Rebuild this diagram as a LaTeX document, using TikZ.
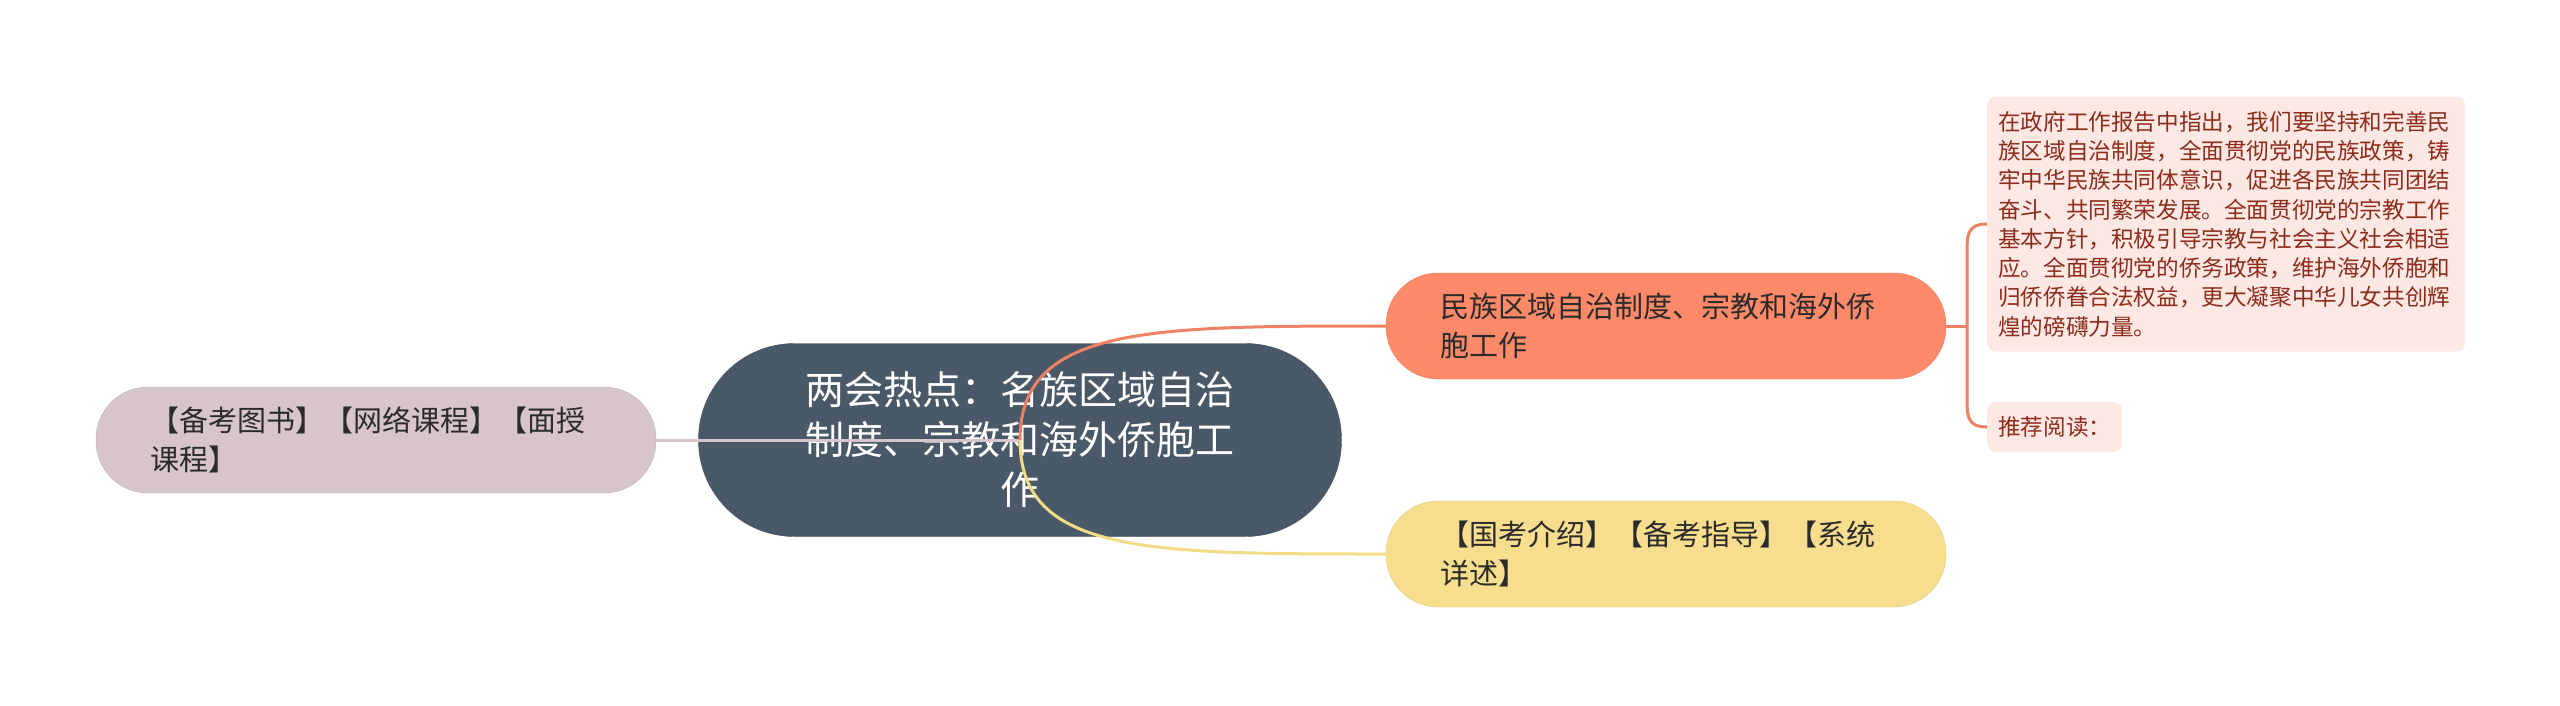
\documentclass[tikz,border=0pt]{standalone}
\usepackage{fontspec}
\newfontfamily\cjk{Noto Sans CJK SC}
\usetikzlibrary{calc}

\definecolor{slate}{HTML}{4A5968}
\definecolor{lilac}{HTML}{D8C4CD}
\definecolor{coral}{HTML}{FF8A69}
\definecolor{corallink}{HTML}{EE8064}
\definecolor{sand}{HTML}{F7DE8F}
\definecolor{sandlink}{HTML}{F3DC86}
\definecolor{leafpink}{HTML}{FDE8E4}
\definecolor{leafred}{HTML}{8E2C1C}
\definecolor{inkgray}{HTML}{2B2B2B}

\begin{document}
\begin{tikzpicture}[x=1pt,y=-1pt,
        topic/.style={rounded corners=96pt,fill=slate,draw=slate!85!black,text=white,minimum height=193pt,
          text width=500pt,inner xsep=71.5pt,align=center,font=\cjk\fontsize{39pt}{50pt}\selectfont},
        branch/.style={rounded corners=52pt,minimum height=106pt,text width=452pt,inner xsep=54pt,inner ysep=0pt,
          align=left,text=inkgray,font=\cjk\fontsize{29pt}{39pt}\selectfont},
        leaf/.style={rounded corners=9pt,fill=leafpink,text=leafred,align=left,inner xsep=11pt,anchor=west,
          font=\cjk\fontsize{22.6pt}{29.3pt}\selectfont},
        link/.style={line width=3pt}]
        \useasboundingbox (0,0) rectangle (2560,705);

        \node[topic] (hot) at (1020,440) {两会热点：名族区域自治\\制度、宗教和海外侨胞工\\作};
        \node[branch,fill=lilac,draw=lilac!90!black] (books) at (376,440) {【备考图书】【网络课程】【面授\\课程】};
        \node[branch,fill=coral,draw=coral!92!black] (minzu) at (1666,326) {民族区域自治制度、宗教和海外侨\\胞工作};
        \node[branch,fill=sand,draw=sand!92!black] (guokao) at (1666,554) {【国考介绍】【备考指导】【系统\\详述】};

        \node[leaf,text width=456pt,minimum height=255pt] (detail) at (1987,224)
          {在政府工作报告中指出，我们要坚持和完善民\\族区域自治制度，全面贯彻党的民族政策，铸\\牢中华民族共同体意识，促进各民族共同团结\\奋斗、共同繁荣发展。全面贯彻党的宗教工作\\基本方针，积极引导宗教与社会主义社会相适\\应。全面贯彻党的侨务政策，维护海外侨胞和\\归侨侨眷合法权益，更大凝聚中华儿女共创辉\\煌的磅礴力量。};
        \node[leaf,minimum height=50pt] (reading) at (1987,427) {推荐阅读：};

        \coordinate (fork) at (1967,326);

        \draw[link,lilac] (hot.center) -- (books.east);
        \draw[link,corallink] (hot.center) .. controls +(0,-114) and +(-236,0) .. (minzu.west);
        \draw[link,sandlink] (hot.center) .. controls +(0,114) and +(-236,0) .. (guokao.west);
        \draw[link,corallink] (minzu.east) -- (fork);
        \draw[link,corallink] (detail.west) .. controls +(-21,0) and +(0,-22) .. ($(fork|-detail.west)+(0,34)$)
          -- ($(fork|-reading.west)+(0,-34)$) .. controls +(0,22) and +(-21,0) .. (reading.west);
      \end{tikzpicture}
\end{document}
